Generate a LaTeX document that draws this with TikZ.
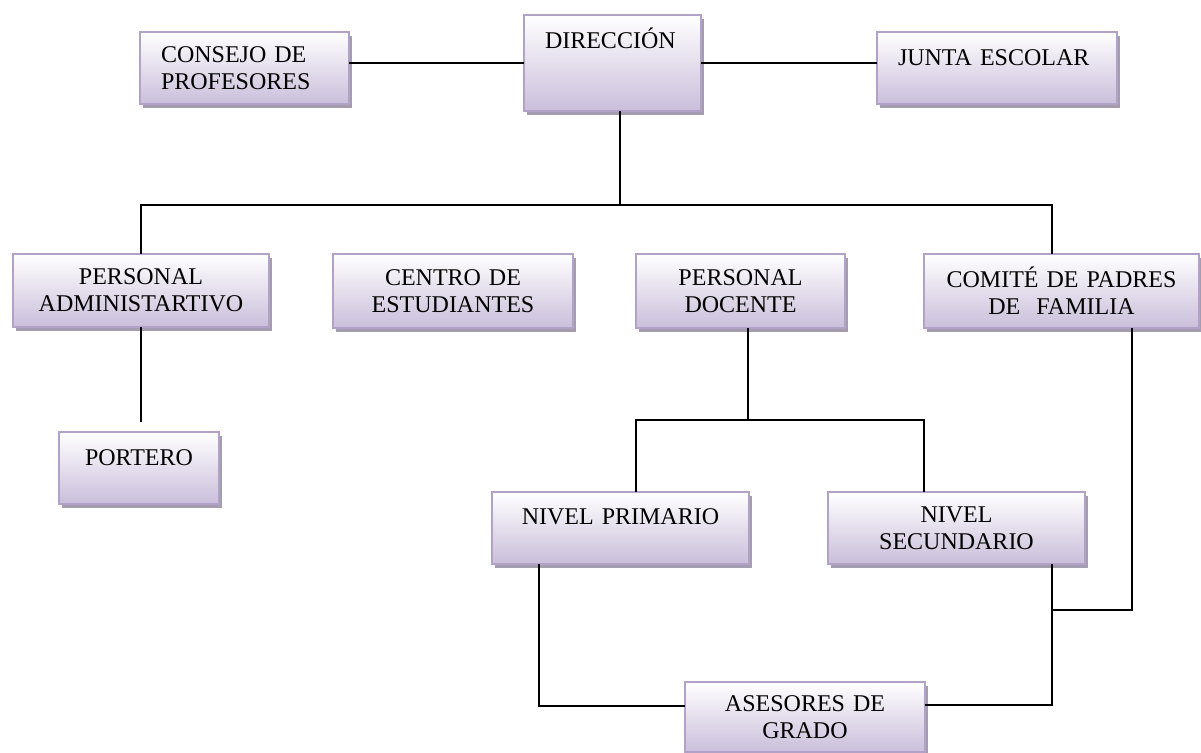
\documentclass[tikz,border=0pt]{standalone}
\usepackage{fontspec}
\setmainfont{Liberation Serif}
\usepackage{tikz}
\usetikzlibrary{shadows}
\definecolor{borde}{HTML}{B3A2C7}
\definecolor{lila}{HTML}{CABEDA}
\definecolor{sombra}{HTML}{A49CAF}

\begin{document}
\begin{tikzpicture}[line cap=rect,line join=miter, x=0.5pt,y=-0.5pt,
  caja/.style={rectangle, anchor=north west, draw=borde, line width=1pt,
    top color=white, bottom color=lila, font=\fontsize{12pt}{13.5pt}\selectfont,
    drop shadow={shadow xshift=1.5pt, shadow yshift=-2pt, fill=sombra, opacity=1},
    inner ysep=0pt},
  izq/.style={align=left, inner xsep=10.5pt},
  cen/.style={align=center, inner xsep=4pt},
  unalinea/.style={text height=8pt, text depth=#1}]
\useasboundingbox (0,0) rectangle (1201,753);
\node[caja, izq, minimum width=104.5pt, minimum height=36pt, text width=83.5pt] (consejo) at (139,31) {CONSEJO DE\\PROFESORES};
\node[caja, izq, unalinea=22pt, minimum width=88.5pt, minimum height=48pt, text width=67.5pt] (direccion) at (523,14) {DIRECCIÓN};
\node[caja, izq, unalinea=10pt, minimum width=120pt, minimum height=36pt, text width=99pt] (junta) at (876,31) {JUNTA ESCOLAR};
\node[caja, cen, minimum width=128pt, minimum height=36.5pt, text width=120pt] (padm) at (12,253) {PERSONAL\\ADMINISTARTIVO};
\node[caja, cen, minimum width=120pt, minimum height=37pt, text width=112pt] (cest) at (332,253) {CENTRO DE\\ESTUDIANTES};
\node[caja, cen, minimum width=104.5pt, minimum height=37pt, text width=96.5pt] (pdoc) at (635,253) {PERSONAL\\DOCENTE};
\node[caja, cen, minimum width=137.5pt, minimum height=37pt, text width=129.5pt] (comite) at (923,253) {COMITÉ DE PADRES\\DE\ \ FAMILIA};
\node[caja, cen, unalinea=10pt, minimum width=80pt, minimum height=36pt, text width=72pt] (port) at (58,431) {PORTERO};
\node[caja, cen, unalinea=11pt, minimum width=128.5pt, minimum height=36pt, text width=120.5pt] (nprim) at (491,491) {NIVEL PRIMARIO};
\node[caja, cen, minimum width=128.5pt, minimum height=36pt, text width=120.5pt] (nsec) at (827,491) {NIVEL\\SECUNDARIO};
\node[caja, cen, minimum width=120pt, minimum height=35pt, text width=112pt] (ases) at (684,681) {ASESORES DE\\GRADO};
\coordinate (r1) at (620,205);
\coordinate (r2) at (1052,205);
\coordinate (r3) at (748,420);
\coordinate (r4) at (636,420);
\coordinate (r5) at (924,420);
\coordinate (r6) at (539,706);
\coordinate (r7) at (1052,705);
\coordinate (r8) at (1132,610);
\coordinate (pp) at ([yshift=5pt]port.north);
\begin{scope}[line width=0.9pt, black]
\draw (direccion.west) -- (direccion.west -| consejo.east);
\draw (direccion.east) -- (direccion.east -| junta.west);
\draw (direccion.south -| r1) -- (r1);
\draw (padm.north) -- (padm.north |- r1) -- (r2) -- (r2 |- comite.north);
\draw (padm.south) -- (padm.south |- pp);
\draw (pdoc.south -| r3) -- (r3);
\draw (r4 |- nprim.north) -- (r4) -- (r5) -- (r5 |- nsec.north);
\draw (nprim.south -| r6) -- (r6) -- (ases.west |- r6);
\draw (nsec.south -| r7) -- (r7) -- (ases.east |- r7);
\draw (comite.south -| r8) -- (r8) -- (r8 -| r7);
\end{scope}
\end{tikzpicture}
\end{document}
